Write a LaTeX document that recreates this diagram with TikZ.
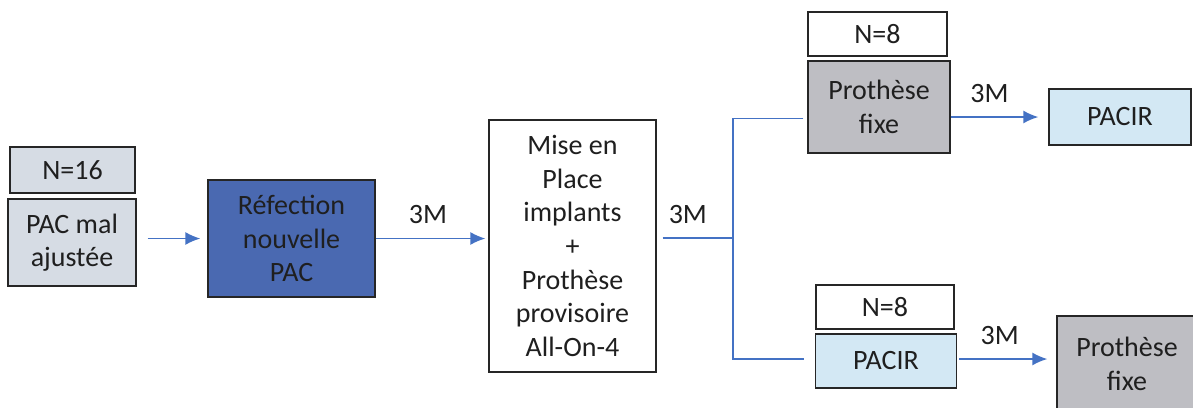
\documentclass[tikz,border=0pt]{standalone}
\usepackage{fontspec}
\setmainfont{Carlito}
\usepackage{tikz}
\usetikzlibrary{arrows.meta, positioning}
\definecolor{pacGris}{HTML}{D6DCE4}
\definecolor{refBleu}{HTML}{4A69B1}
\definecolor{protGris}{HTML}{BEBEC3}
\definecolor{pacirBleu}{HTML}{D3E8F4}
\definecolor{flecheBleu}{HTML}{4472C4}
\tikzset{
  boite/.style={draw=black!85, line width=1.4pt, inner sep=0pt, align=center,
    text=black!88, font=\fontsize{28}{33.6}\selectfont},
  fleche/.style={draw=flecheBleu, line width=1.4pt},
  duree/.style={above=14pt, inner sep=0pt, text=black!88,
    font=\fontsize{28}{33.6}\selectfont}
}

\begin{document}
\begin{tikzpicture}[x=1pt, y=-1pt, >={Latex[length=15pt,width=13pt]}]
\clip (0,0) rectangle (1193,407);
\node[boite, fill=pacGris, minimum width=125pt, minimum height=46pt] (n16) at (72.5,170) {N=16};
\node[boite, fill=pacGris, minimum width=128pt, minimum height=87pt] (pac) at (72,242.5) {PAC mal\\ajustée};
\node[boite, fill=refBleu, minimum width=167pt, minimum height=117pt] (refection) at (291.5,238.5) {Réfection\\nouvelle\\PAC};
\node[boite, fill=white, minimum width=167pt, minimum height=252pt] (mise) at (572.5,246) {Mise en\\Place\\implants\\+\\Prothèse\\provisoire\\All-On-4};
\node[boite, fill=white, minimum width=139pt, minimum height=44pt] (n8haut) at (877.5,34) {N=8};
\node[boite, fill=protGris, minimum width=142pt, minimum height=92pt] (prothHaut) at (879,107) {Prothèse\\fixe};
\node[boite, fill=pacirBleu, minimum width=142pt, minimum height=56pt] (pacirHaut) at (1120,117) {PACIR};
\node[boite, fill=white, minimum width=138pt, minimum height=44pt] (n8bas) at (885,307) {N=8};
\node[boite, fill=pacirBleu, minimum width=141pt, minimum height=54pt] (pacirBas) at (886,361) {PACIR};
\node[boite, fill=protGris, minimum width=140pt, minimum height=96pt] (prothBas) at (1127,364) {Prothèse\\fixe};
\coordinate (jn) at (733,238);
\coordinate (haut) at (733,118.5);
\coordinate (bas) at (733,359);

\draw[fleche, ->, shorten <=11pt, shorten >=7pt] (pac.east |- refection.west) -- (refection.west);
\draw[fleche, ->, shorten >=3pt] (refection.east) -- node[duree, xshift=-4pt]{3M} (mise.west |- refection.east);
\draw[fleche, shorten <=6pt] (mise.east |- jn) -- node[duree, xshift=-7pt]{3M} (jn);
\draw[fleche, shorten <=4pt, shorten >=11pt] (haut -| prothHaut.west) -- (haut) -- (bas) -- (bas -| pacirBas.west);
\draw[fleche, ->, shorten >=10pt] (prothHaut.east |- pacirHaut.west) -- node[duree, xshift=-10pt]{3M} (pacirHaut.west);
\draw[fleche, ->, shorten <=2pt, shorten >=9pt] (pacirBas.east |- bas) -- node[duree, xshift=-7pt]{3M} (prothBas.west |- bas);
\end{tikzpicture}
\end{document}
